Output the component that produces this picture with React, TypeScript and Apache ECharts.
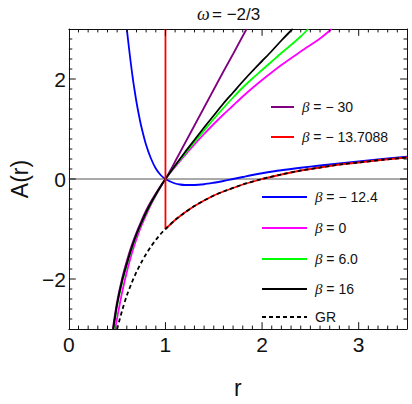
import React, { useEffect, useRef } from "react";
import * as echarts from "echarts";

// ---- data ----
const titleSymbol = "ω";
const titleRest = "= −2/3";
const xName = "r";
const yName = "A(r)";

const names = ["β = − 30", "β = − 13.7088", "β = − 12.4", "β = 0", "β = 6.0", "β = 16", "GR"];
const colors = ["#800080", "#ff0000", "#0000ff", "#ff00ff", "#00ff00", "#000000", "#000000"];

const purple: number[][] = [
  [0.455, -3], [0.5, -2.45], [0.55, -2.0], [0.6, -1.64], [0.65, -1.33], [0.7, -1.07], [0.75, -0.84],
  [0.8, -0.63], [0.85, -0.45], [0.9, -0.29], [0.95, -0.14], [1, 0], [1.05, 0.17], [1.1, 0.35],
  [1.2, 0.71], [1.3, 1.07], [1.4, 1.43], [1.5, 1.79], [1.6, 2.15], [1.7, 2.5], [1.8, 2.86], [1.84, 3.0],
];
const black: number[][] = [
  [0.46, -3], [0.5, -2.5], [0.55, -2.05], [0.6, -1.7], [0.65, -1.38], [0.7, -1.11], [0.75, -0.88],
  [0.8, -0.67], [0.85, -0.48], [0.9, -0.31], [0.95, -0.15], [1, 0], [1.1, 0.27], [1.2, 0.53],
  [1.3, 0.78], [1.4, 1.03], [1.5, 1.27], [1.6, 1.51], [1.7, 1.73], [1.8, 1.95], [1.9, 2.16],
  [2.0, 2.36], [2.1, 2.56], [2.2, 2.77], [2.3, 2.97], [2.317, 3.0],
];
const green: number[][] = [
  [0.465, -3], [0.5, -2.53], [0.55, -2.08], [0.6, -1.72], [0.65, -1.4], [0.7, -1.12], [0.75, -0.89],
  [0.8, -0.68], [0.85, -0.49], [0.9, -0.32], [0.95, -0.15], [1, 0], [1.1, 0.26], [1.2, 0.5],
  [1.3, 0.74], [1.4, 0.97], [1.5, 1.2], [1.6, 1.42], [1.7, 1.63], [1.8, 1.83], [1.9, 2.01],
  [2.0, 2.18], [2.1, 2.35], [2.2, 2.52], [2.3, 2.68], [2.4, 2.85], [2.477, 3.0],
];
const magenta: number[][] = [
  [0.48, -3], [0.5, -2.78], [0.55, -2.28], [0.6, -1.86], [0.65, -1.5], [0.7, -1.2], [0.75, -0.94],
  [0.8, -0.72], [0.85, -0.51], [0.9, -0.33], [0.95, -0.16], [1, 0], [1.1, 0.24], [1.2, 0.47],
  [1.3, 0.69], [1.4, 0.9], [1.5, 1.1], [1.6, 1.29], [1.7, 1.47], [1.8, 1.65], [1.9, 1.82],
  [2.0, 1.98], [2.2, 2.28], [2.4, 2.55], [2.6, 2.81], [2.72, 3.0],
];
const blue: number[][] = [
  [0.6, 3.0], [0.62, 2.66], [0.64, 2.34], [0.66, 2.04], [0.68, 1.78], [0.7, 1.54], [0.72, 1.33],
  [0.75, 1.05], [0.8, 0.68], [0.85, 0.41], [0.9, 0.21], [0.95, 0.08], [1, 0], [1.05, -0.05],
  [1.1, -0.09], [1.15, -0.11], [1.2, -0.12], [1.3, -0.12], [1.4, -0.105], [1.5, -0.075],
  [1.6, -0.04], [1.7, 0.0], [1.8, 0.04], [1.9, 0.08], [2.0, 0.115], [2.2, 0.175], [2.4, 0.225],
  [2.6, 0.27], [2.8, 0.31], [3.0, 0.35], [3.25, 0.4], [3.5, 0.445],
];
const gr: number[][] = [
  [0.5, -3], [0.55, -2.64], [0.6, -2.33], [0.65, -2.08], [0.7, -1.86], [0.75, -1.67], [0.8, -1.5],
  [0.85, -1.35], [0.9, -1.22], [0.95, -1.1], [1, -1], [1.1, -0.82], [1.2, -0.67], [1.3, -0.54],
  [1.4, -0.43], [1.5, -0.33], [1.6, -0.25], [1.8, -0.11], [2.0, 0], [2.2, 0.09], [2.4, 0.17],
  [2.6, 0.23], [2.8, 0.29], [3.0, 0.33], [3.25, 0.385], [3.5, 0.43],
];
const red: number[][] = [
  [1, 3], [1, -1], [1.1, -0.82], [1.2, -0.67], [1.3, -0.54], [1.4, -0.43], [1.5, -0.33],
  [1.6, -0.25], [1.8, -0.11], [2.0, 0], [2.2, 0.09], [2.4, 0.17], [2.6, 0.23], [2.8, 0.29],
  [3.0, 0.33], [3.25, 0.385], [3.5, 0.43],
];
const zeroLine: number[][] = [[0, 0], [3.5, 0]];

// frame tick positions: [value, isMajor]
const xTicks: number[][] = [];
for (let i = 1; i < 35; i++) xTicks.push([i / 10, i % 10 === 0 ? 1 : 0]);
const yTicks: number[][] = [];
for (let i = -14; i <= 14; i++) yTicks.push([Math.round(i * 2) / 10, i % 10 === 0 ? 1 : 0]);

const FONT = "'Liberation Sans', Arial, Helvetica, sans-serif";
const SERIF = "'Liberation Serif', 'DejaVu Serif', serif";
const AX = "#111111";

const fmt = (v: number) => (v < 0 ? "−" + Math.abs(v) : String(v));

// main grid geometry (pixels)
const G = { left: 65, right: 5, top: 29, bottom: 68 };
const X_MIN = 0, X_MAX = 3.5, Y_MIN = -3, Y_MAX = 3;
const xPerPx = (X_MAX - X_MIN) / (412 - G.left - G.right);
const yPerPx = (Y_MAX - Y_MIN) / (404 - G.top - G.bottom);

function xAxisDef(pos: "bottom" | "top", withLabels: boolean): any {
  return {
    type: "value",
    min: X_MIN,
    max: X_MAX,
    interval: 1,
    position: pos,
    axisLine: { show: true, onZero: false, lineStyle: { color: AX, width: 1 } },
    axisTick: { show: false },
    axisLabel: withLabels
      ? {
          show: true,
          formatter: (v: number) => (Math.abs(v - Math.round(v)) < 1e-6 ? fmt(Math.round(v)) : ""),
          fontSize: 21,
          color: AX,
          margin: 5,
          fontFamily: FONT,
        }
      : { show: false },
    splitLine: { show: false },
    ...(withLabels
      ? { name: xName, nameLocation: "middle", nameGap: 47, nameTextStyle: { fontSize: 23, color: AX, fontFamily: FONT } }
      : {}),
  };
}
function yAxisDef(pos: "left" | "right", withLabels: boolean): any {
  return {
    type: "value",
    min: Y_MIN,
    max: Y_MAX,
    interval: 1,
    position: pos,
    axisLine: { show: true, onZero: false, lineStyle: { color: AX, width: 1 } },
    axisTick: { show: false },
    axisLabel: withLabels
      ? {
          show: true,
          formatter: (v: number) => (Math.round(v) % 2 === 0 ? fmt(Math.round(v)) : ""),
          fontSize: 21,
          color: AX,
          margin: 3,
          fontFamily: FONT,
        }
      : { show: false },
    splitLine: { show: false },
    ...(withLabels
      ? { name: yName, nameLocation: "middle", nameGap: 36, nameTextStyle: { fontSize: 23, color: AX, fontFamily: FONT } }
      : {}),
  };
}

// legend layout: [left, centerY, itemWidth]
const legendLayout: number[][] = [
  [270, 107, 23],
  [270, 137, 23],
  [261, 197, 45],
  [261, 228, 45],
  [261, 259, 45],
  [261, 289, 45],
  [261, 317, 45],
];

export default function App() {
  const ref = useRef<HTMLDivElement>(null);
  useEffect(() => {
    if (!ref.current) return;
    const chart = echarts.init(ref.current, null, { renderer: "svg" });
    const seriesData: Record<string, number[][]> = {
      [names[0]]: purple,
      [names[1]]: red,
      [names[2]]: blue,
      [names[3]]: magenta,
      [names[4]]: green,
      [names[5]]: black,
      [names[6]]: gr,
    };
    const drawOrder = [2, 3, 4, 0, 5, 1, 6];
    const tickSeries = (data: number[][]) => ({
      type: "line",
      data,
      symbol: "none",
      showSymbol: false,
      clip: false,
      lineStyle: { color: AX, width: 1 },
      emphasis: { disabled: true },
      z: 3,
    });
    const ticks: any[] = [];
    xTicks.forEach(([v, major]) => {
      const len = (major ? 7 : 3.5) * yPerPx;
      ticks.push(tickSeries([[v, Y_MIN], [v, Y_MIN + len]]));
      ticks.push(tickSeries([[v, Y_MAX], [v, Y_MAX - len]]));
    });
    yTicks.forEach(([v, major]) => {
      const len = (major ? 7 : 3.5) * xPerPx;
      ticks.push(tickSeries([[X_MIN, v], [X_MIN + len, v]]));
      ticks.push(tickSeries([[X_MAX, v], [X_MAX - len, v]]));
    });
    const series: any[] = [
      {
        type: "line",
        name: "zero",
        data: zeroLine,
        symbol: "none",
        lineStyle: { color: "#555", width: 1 },
        emphasis: { disabled: true },
        z: 1,
      },
      ...drawOrder.map((k) => ({
        type: "line",
        name: names[k],
        data: seriesData[names[k]],
        symbol: "none",
        showSymbol: false,
        smooth: k === 1 ? false : 0.3,
        clip: true,
        itemStyle: { color: colors[k] },
        lineStyle: { color: colors[k], width: 1.8, type: k === 6 ? [4, 3] : "solid" },
        z: 2,
      })),
      ...ticks,
    ];
    const legends = names.map((n, k) => ({
      data: [n],
      orient: "vertical",
      left: legendLayout[k][0],
      top: legendLayout[k][1] - 8,
      padding: 0,
      itemWidth: legendLayout[k][2],
      itemHeight: 14,
      selectedMode: false,
      itemStyle: { opacity: 0 },
      formatter: (name: string) =>
        name.startsWith("β") ? "{i|β}{n|" + name.slice(1) + "}" : "{g|" + name + "}",
      textStyle: {
        fontSize: 14,
        lineHeight: 16,
        color: "#111",
        fontFamily: FONT,
        rich: {
          i: { fontSize: 15, fontStyle: "italic", fontFamily: SERIF, color: "#111", padding: [0, 0, 0, 3] },
          n: { fontSize: 14, fontFamily: FONT, color: "#111" },
          g: { fontSize: 14, fontFamily: FONT, color: "#111", padding: [0, 0, 0, 3] },
        },
      },
    }));
    chart.setOption({
      animation: false,
      grid: { left: G.left, right: G.right, top: G.top, bottom: G.bottom, containLabel: false },
      xAxis: [xAxisDef("bottom", true), xAxisDef("top", false)],
      yAxis: [yAxisDef("left", true), yAxisDef("right", false)],
      legend: legends,
      graphic: [
        {
          type: "text",
          x: 197,
          y: 14,
          style: { text: titleSymbol, fontSize: 18, fontStyle: "italic", fontFamily: SERIF, fill: "#111", align: "left", verticalAlign: "middle" },
        },
        {
          type: "text",
          x: 212,
          y: 14,
          style: { text: titleRest, fontSize: 17, fontFamily: FONT, fill: "#111", align: "left", verticalAlign: "middle" },
        },
      ],
      series,
    });
    return () => chart.dispose();
  }, []);
  return <div ref={ref} style={{ position: "fixed", left: 0, top: 0, width: 412, height: 404, background: "#fff" }} />;
}
